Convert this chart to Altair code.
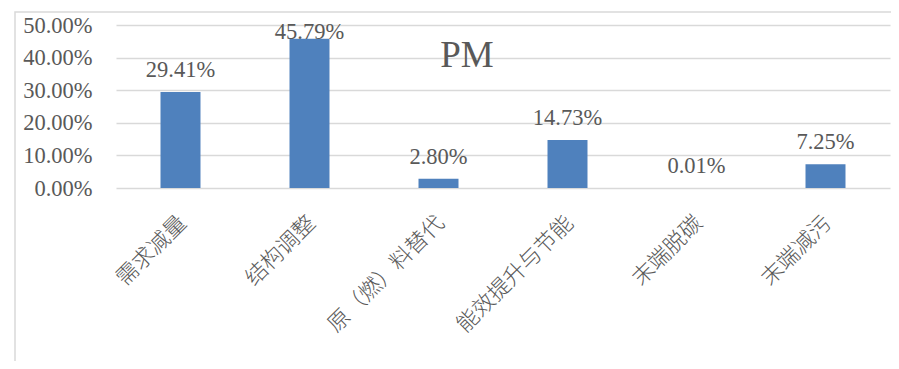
import altair as alt
import pandas as pd

categories = ["需求减量", "结构调整", "原（燃）料替代", "能效提升与节能", "末端脱碳", "末端减污"]
values = [0.2941, 0.4579, 0.0280, 0.1473, 0.0001, 0.0725]
labels = ["29.41%", "45.79%", "2.80%", "14.73%", "0.01%", "7.25%"]
title_text = "PM"
y_ticks = [0, 0.1, 0.2, 0.3, 0.4, 0.5]

df = pd.DataFrame({"cat": categories, "val": values, "lab": labels})

W, H = 774, 163
serif = "Liberation Serif"
cjk = "Noto Sans CJK SC"
gray = "#595959"

x_scale = alt.Scale(paddingInner=0.69, paddingOuter=0.345)
x_axis = alt.Axis(labelAngle=-45, labelFont=cjk, labelFontSize=22, labelColor=gray,
                  labelFontWeight=300,
                  labelAlign="right", labelBaseline="top", labelPadding=24,
                  labelOffset=-5,
                  domain=False, ticks=False, grid=False, labelLimit=300)
y_scale = alt.Scale(domain=[0, 0.5], nice=False)
y_axis = alt.Axis(format=".2%", values=y_ticks,
                  labelOverlap=False,
                  labelFont=serif, labelFontSize=22.5, labelColor=gray,
                  labelPadding=24, domain=False, ticks=False,
                  grid=True, gridColor="#D9D9D9", gridWidth=1.5)

base = alt.Chart(df)

bars = base.mark_bar(color="#4F81BD").encode(
    x=alt.X("cat:N", sort=categories, title=None, scale=x_scale, axis=x_axis),
    y=alt.Y("val:Q", title=None, scale=y_scale, axis=y_axis))
text = base.transform_calculate(
    ly="min(datum.val + 0.0675, 0.4785)"
).mark_text(font=serif, fontSize=22.5, color=gray, baseline="middle").encode(
    x=alt.X("cat:N", sort=categories, title=None, scale=x_scale, axis=x_axis),
    y=alt.Y("ly:Q", title=None, scale=y_scale, axis=y_axis),
    text="lab:N")

title = alt.Chart(pd.DataFrame({"t": [title_text]})).mark_text(
    font=serif, fontSize=37, color=gray, align="center", baseline="middle").encode(
    x=alt.value(351), y=alt.value(31), text="t:N")

frame = alt.Chart(pd.DataFrame({"a": [0]})).mark_rect(
    fill=None, stroke="#D9D9D9", strokeWidth=1.5, clip=False).encode(
    x=alt.value(-101), x2=alt.value(900), y=alt.value(-13), y2=alt.value(400))

chart = alt.layer(frame, bars, text, title).properties(
    width=W, height=H,
    autosize=alt.AutoSizeParams(type="none"),
    padding={"left": 108, "top": 17, "right": 1, "bottom": 173},
).configure_view(stroke=None)

chart.save("out.html", embed_options={"renderer": "svg", "actions": False})
